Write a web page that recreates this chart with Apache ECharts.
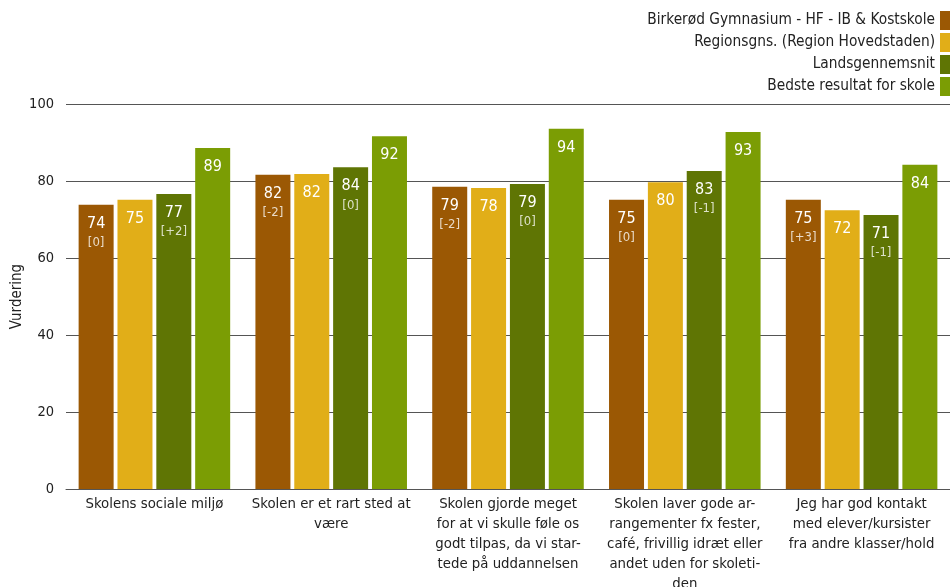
<!DOCTYPE html>
<html><head><meta charset="utf-8">
<script src="https://cdn.jsdelivr.net/npm/echarts@6/dist/echarts.min.js"></script>
<style>html,body{margin:0;padding:0;background:#fff}#c{width:950px;height:587px}</style>
</head><body><div id="c"></div>
<script>
const categories = [
  'Skolens sociale miljø',
  'Skolen er et rart sted at\nvære',
  'Skolen gjorde meget\nfor at vi skulle føle os\ngodt tilpas, da vi star-\ntede på uddannelsen',
  'Skolen laver gode ar-\nrangementer fx fester,\ncafé, frivillig idræt eller\nandet uden for skoleti-\nden',
  'Jeg har god kontakt\nmed elever/kursister\nfra andre klasser/hold'
];
const seriesNames = ['Birkerød Gymnasium - HF - IB & Kostskole','Regionsgns. (Region Hovedstaden)','Landsgennemsnit','Bedste resultat for skole'];
const school = [73.8, 81.6, 78.5, 75.1, 75.1];
const region = [75.1, 81.8, 78.2, 79.7, 72.4];
const land = [76.6, 83.6, 79.2, 82.6, 71.2];
const best = [88.6, 91.6, 93.6, 92.7, 84.2];
const schoolDiff = ['[0]','[-2]','[-2]','[0]','[+3]'];
const landDiff = ['[+2]','[0]','[0]','[-1]','[-1]'];
const yTicks = [0,20,40,60,80,100];
const colors = ['#9B5804','#E1AE18','#5F7504','#7B9D04'];
const FONT = '"DejaVu Sans Condensed","DejaVu Sans",sans-serif';

function mk(name, data, color, diffs) {
  return {
    name, type: 'bar', data, barWidth: 35, barGap: '11%',
    itemStyle: {color},
    label: {
      show: true, position: 'insideTop', distance: 9,
      fontFamily: FONT,
      formatter: p => diffs ? '{v|' + Math.round(p.value) + '}\n{d|' + diffs[p.dataIndex] + '}' : '{v|' + Math.round(p.value) + '}',
      rich: {
        v: {color: '#fff', fontSize: 16, fontFamily: FONT, lineHeight: 20},
        d: {color: 'rgba(255,255,255,0.78)', fontSize: 13, fontFamily: FONT, lineHeight: 18}
      }
    }
  };
}

const chart = echarts.init(document.getElementById('c'));
chart.setOption({
  animation: false,
  textStyle: {fontFamily: FONT},
  legend: {
    orient: 'vertical', right: -9, top: 6, align: 'right',
    itemWidth: 14, itemHeight: 19, itemGap: 3,
    icon: 'rect',
    textStyle: {fontSize: 15.3, color: '#222', fontFamily: FONT},
    data: seriesNames
  },
  grid: {left: 66, right: 0, top: 104, bottom: 98, outerBoundsMode: 'none', containLabel: false},
  xAxis: {
    type: 'category', data: categories,
    axisLine: {lineStyle: {color: '#555', width: 1}},
    axisTick: {show: false},
    axisLabel: {interval: 0, fontSize: 14.8, color: '#222', lineHeight: 20, margin: 5, fontFamily: FONT}
  },
  yAxis: {
    type: 'value', min: 0, max: 100, interval: 20,
    name: 'Vurdering', nameLocation: 'middle', nameGap: 41, nameRotate: 90,
    nameMoveOverlap: false,
    nameTextStyle: {fontSize: 15, color: '#222', fontFamily: FONT},
    axisLine: {show: false},
    axisTick: {show: false},
    axisLabel: {fontSize: 14.5, color: '#222', margin: 12, fontFamily: FONT, formatter: v => yTicks.includes(v) ? String(v) : ''},
    splitLine: {lineStyle: {color: '#555', width: 1}}
  },
  series: [
    mk(seriesNames[0], school, colors[0], schoolDiff),
    mk(seriesNames[1], region, colors[1], null),
    mk(seriesNames[2], land, colors[2], landDiff),
    mk(seriesNames[3], best, colors[3], null)
  ]
});
</script></body></html>
